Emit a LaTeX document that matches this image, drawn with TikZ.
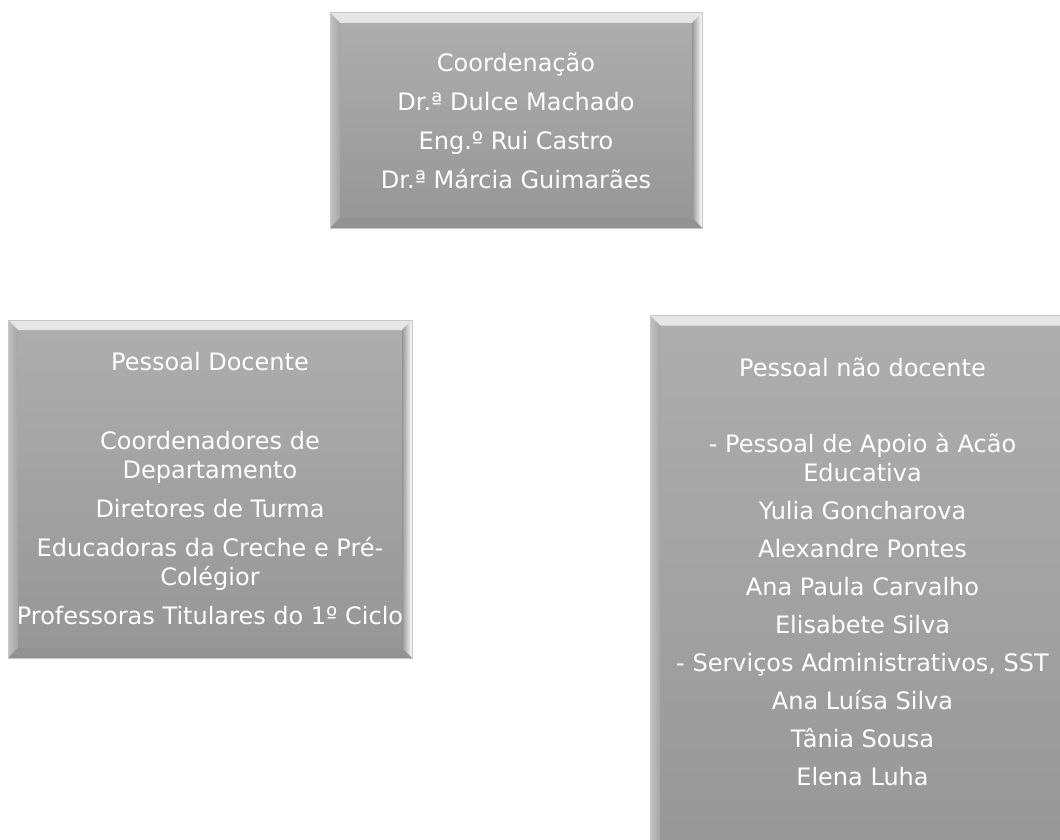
\documentclass[tikz,border=0pt]{standalone}
\usepackage{fontspec}
\setmainfont{DejaVu Sans}
\usepackage{xcolor}

\definecolor{boxtop}{RGB}{174,174,174}
\definecolor{boxbot}{RGB}{150,150,150}
\definecolor{boxrim}{RGB}{200,200,200}

\tikzset{
  bevelbox/.style={draw=boxrim,line width=0.5pt,top color=boxtop,bottom color=boxbot,
    text=white,align=center,inner sep=0pt,
    font=\fontsize{12pt}{14.5pt}\selectfont,
    path picture={
      \def\bw{5pt}
      % top highlight
      \shade[top color=boxtop!30!white,middle color=white,bottom color=boxtop]
        (path picture bounding box.north west) -- (path picture bounding box.north east)
        -- ([xshift=-\bw,yshift=-\bw]path picture bounding box.north east)
        -- ([xshift=\bw,yshift=-\bw]path picture bounding box.north west) -- cycle;
      % left edge
      \shade[left color=boxtop!75!white,right color=boxtop!95!black]
        (path picture bounding box.north west) -- ([xshift=\bw,yshift=-\bw]path picture bounding box.north west)
        -- ([xshift=\bw,yshift=\bw]path picture bounding box.south west)
        -- (path picture bounding box.south west) -- cycle;
      % right edge
      \shade[left color=boxbot,right color=white]
        (path picture bounding box.north east) -- ([xshift=-\bw,yshift=-\bw]path picture bounding box.north east)
        -- ([xshift=-\bw,yshift=\bw]path picture bounding box.south east)
        -- (path picture bounding box.south east) -- cycle;
      % bottom edge
      \fill[boxbot!97!black]
        (path picture bounding box.south west) -- ([xshift=\bw,yshift=\bw]path picture bounding box.south west)
        -- ([xshift=-\bw,yshift=\bw]path picture bounding box.south east)
        -- (path picture bounding box.south east) -- cycle;
    }},
}

\begin{document}
\begin{tikzpicture}[x=0.5pt,y=-0.5pt]
\useasboundingbox (0,0) rectangle (1060,840);

\node[bevelbox,minimum width=186pt,minimum height=107.5pt] (coord) at (516,120.5)
  {Coordenação\\[5pt]
   Dr.ª Dulce Machado\\[5pt]
   Eng.º Rui Castro\\[5pt]
   Dr.ª Márcia Guimarães};

\node[bevelbox,minimum width=202pt,minimum height=169pt] (docente) at (210,489)
  {Pessoal Docente\\[25pt]
   Coordenadores de\\Departamento\\[5pt]
   Diretores de Turma\\[5pt]
   Educadoras da Creche e Pré-\\Colégior\\[5pt]
   Professoras Titulares do 1º Ciclo};

\node[bevelbox,minimum width=212.5pt,anchor=north,inner ysep=21pt,text depth=25pt] (naodocente) at (862.5,315)
  {Pessoal não docente\\[23.5pt]
   - Pessoal de Apoio à Acão\\Educativa\\[4.5pt]
   Yulia Goncharova\\[4.5pt]
   Alexandre Pontes\\[4.5pt]
   Ana Paula Carvalho\\[4.5pt]
   Elisabete Silva\\[4.5pt]
   - Serviços Administrativos, SST\\[4.5pt]
   Ana Luísa Silva\\[4.5pt]
   Tânia Sousa\\[4.5pt]
   Elena Luha};
\end{tikzpicture}
\end{document}
